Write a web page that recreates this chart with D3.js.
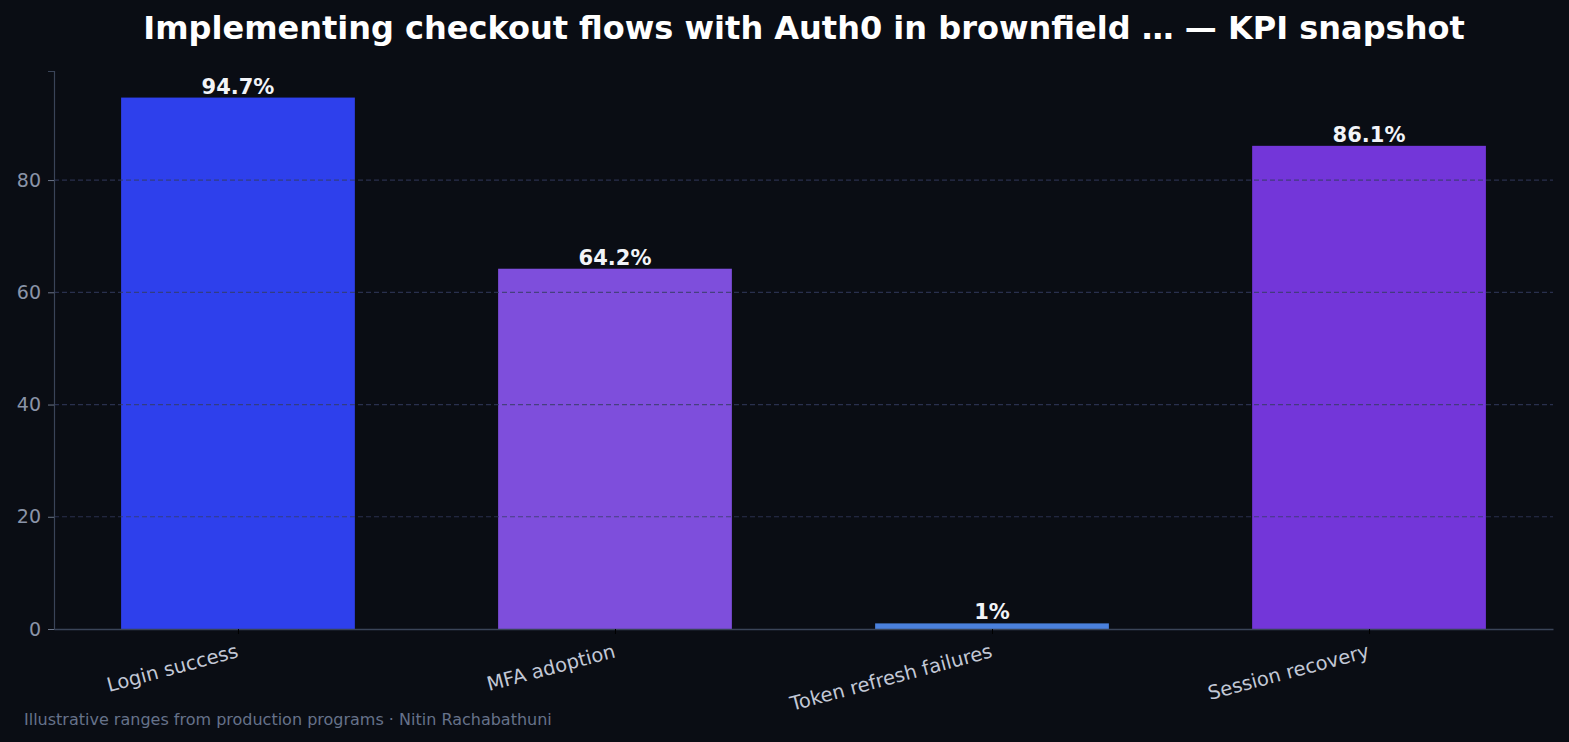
<!DOCTYPE html>
<html>
<head>
<meta charset="utf-8">
<script src="https://cdn.jsdelivr.net/npm/d3@7"></script>
<style>
  body { margin: 0; background: #0a0d14; }
  svg { display: block; font-family: "DejaVu Sans", sans-serif; }
</style>
</head>
<body>
<svg class="viz" width="1569" height="742"></svg>
<script>
// chart data
var categories = ["Login success", "MFA adoption", "Token refresh failures", "Session recovery"];
var values = [94.7, 64.2, 1, 86.1];
var valueLabels = ["94.7%", "64.2%", "1%", "86.1%"];
var barColors = ["#2e40ec", "#7e4edc", "#4a80dc", "#7336d9"];
var yTicks = [0, 20, 40, 60, 80];

var svg = d3.select(".viz"),
    margin = {top: 71, right: 16, bottom: 113, left: 54},
    width = svg.attr("width") - margin.left - margin.right,
    height = svg.attr("height") - margin.top - margin.bottom;

svg.append("rect").attr("width", 1569).attr("height", 742).attr("fill", "#0a0d14");

var g = svg.append("g").attr("transform", "translate(" + margin.left + "," + margin.top + ")");

var scaleX = d3.scaleLinear().domain([-0.488, categories.length - 1 + 0.488]).range([0, width]);
var scaleY = d3.scaleLinear().domain([0, d3.max(values) * 1.05]).range([height, 0]);
var barW = 0.62;

// bars
g.selectAll("rect.bar")
  .data(values)
  .enter()
  .append("rect")
    .attr("class", "bar")
    .attr("x", function (d, i) { return scaleX(i - barW / 2); })
    .attr("width", function (d, i) { return scaleX(i + barW / 2) - scaleX(i - barW / 2); })
    .attr("y", function (d) { return scaleY(d); })
    .attr("height", function (d) { return height - scaleY(d); })
    .attr("fill", function (d, i) { return barColors[i]; });

// grid lines (drawn over the bars)
g.selectAll("line.grid")
  .data(yTicks.filter(function (t) { return t > 0; }))
  .enter()
  .append("line")
    .attr("class", "grid")
    .attr("x1", 0)
    .attr("x2", width)
    .attr("y1", function (d) { return scaleY(d); })
    .attr("y2", function (d) { return scaleY(d); })
    .style("stroke", "#343c60")
    .style("stroke-opacity", 0.75)
    .style("stroke-width", 1.2)
    .style("stroke-dasharray", "5,3");

// y axis
var yAxis = d3.axisLeft(scaleY).tickValues(yTicks).tickSize(6).tickPadding(7);
var yg = g.append("g").call(yAxis);
yg.select(".domain").attr("stroke", "#3a4458").attr("stroke-width", 1.2);
yg.selectAll(".tick line").attr("stroke", "#6a7488");
yg.selectAll(".tick text").attr("fill", "#8a94a8").attr("font-size", "19px").attr("font-family", "DejaVu Sans");

// x axis
var xAxis = d3.axisBottom(scaleX).tickValues(d3.range(categories.length))
  .tickFormat(function (i) { return categories[i]; }).tickSize(5).tickSizeOuter(0).tickPadding(8);
var xg = g.append("g").attr("transform", "translate(0," + height + ")").call(xAxis);
xg.select(".domain").attr("stroke", "#3a4458").attr("stroke-width", 1.5);
xg.selectAll(".tick line").attr("stroke", "#000000");
xg.selectAll(".tick text")
  .attr("fill", "#c2c8d6")
  .attr("font-size", "19.5px")
  .attr("font-family", "DejaVu Sans")
  .attr("text-anchor", "end")
  .attr("dy", "0.5em")
  .attr("transform", "translate(-5,6) rotate(-15)");

// value labels
g.selectAll("text.val")
  .data(values)
  .enter()
  .append("text")
    .attr("class", "val")
    .attr("x", function (d, i) { return scaleX(i); })
    .attr("y", function (d) { return scaleY(d) - 4; })
    .attr("text-anchor", "middle")
    .attr("font-size", "21px")
    .attr("font-weight", "bold")
    .attr("fill", "#f2f4f8")
    .text(function (d, i) { return valueLabels[i]; });

// title
svg.append("text")
  .attr("x", 804)
  .attr("y", 39)
  .attr("text-anchor", "middle")
  .attr("font-size", "32px")
  .attr("font-weight", "bold")
  .attr("fill", "#ffffff")
  .text("Implementing checkout flows with Auth0 in brownfield … — KPI snapshot");

// footer
svg.append("text")
  .attr("x", 24)
  .attr("y", 725)
  .attr("font-size", "16px")
  .attr("fill", "#66728a")
  .text("Illustrative ranges from production programs · Nitin Rachabathuni");
</script>
</body>
</html>
